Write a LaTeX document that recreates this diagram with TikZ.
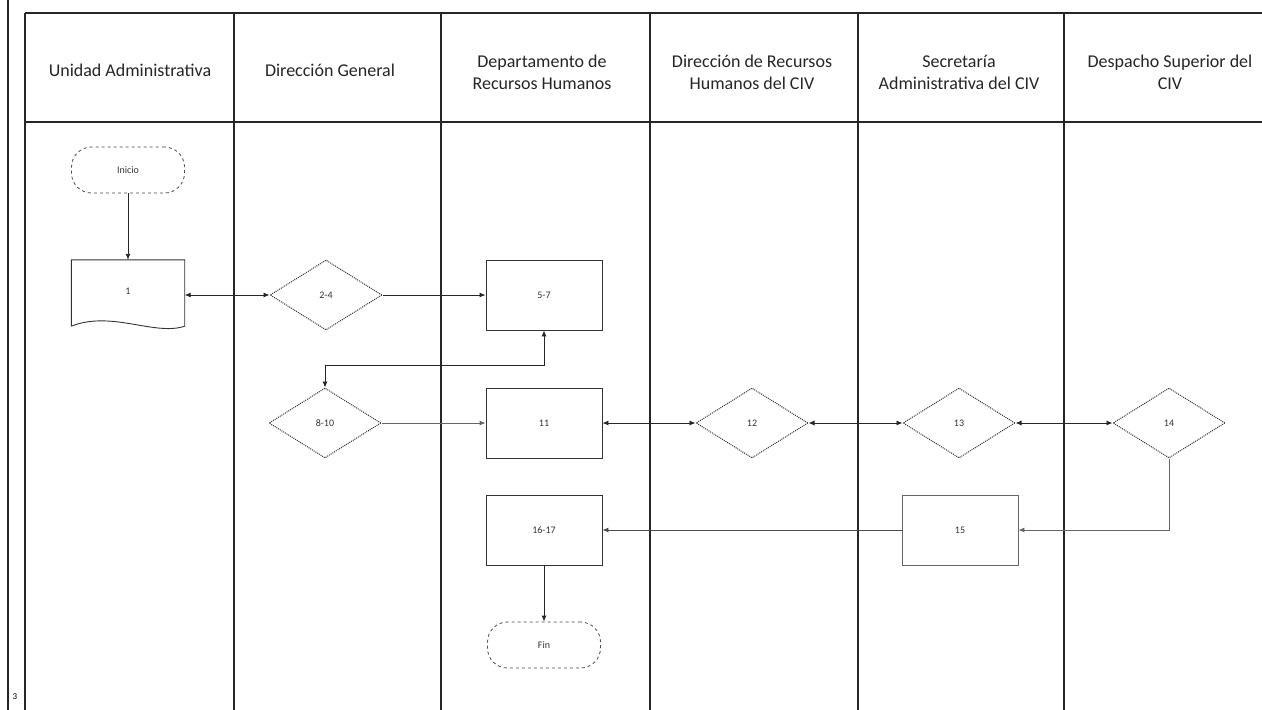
\documentclass[tikz,border=0pt]{standalone}
\usepackage{fontspec}
\setmainfont{Carlito}
\usetikzlibrary{shapes.geometric,arrows.meta}
\begin{document}
\begin{tikzpicture}[x=1pt,y=-1pt,
  lane/.style={line width=1.3pt, draw=black!85},
  hdr/.style={align=center, font=\fontsize{18}{22}\selectfont, text=black!85},
  lbl/.style={font=\fontsize{10}{11}\selectfont, text=black!80},
  term/.style={lbl, draw=black!70, dashed, line width=0.8pt, rounded corners=20pt, minimum width=113pt, minimum height=46pt, inner sep=0pt},
  proc/.style={lbl, draw=black!80, line width=0.9pt, minimum width=116pt, minimum height=70pt, inner sep=0pt},
  dec/.style={lbl, diamond, draw=black!80, densely dotted, line width=1pt, aspect=1.6, minimum width=112pt, minimum height=70pt, inner sep=0pt},
  docu/.style={lbl, minimum width=113pt, minimum height=62pt, inner sep=0pt},
  arr/.style={-{Latex[length=6pt,width=5pt]}, line width=0.9pt, draw=black!85},
  darr/.style={{Latex[length=6pt,width=5pt]}-{Latex[length=6pt,width=5pt]}, line width=0.9pt, draw=black!85}]
\useasboundingbox (0,0) rectangle (1262,710);
\fill[white] (0,0) rectangle (1262,710);
% table
\draw[lane] (8,0) -- (8,710);
\draw[lane] (25,13) -- (1262,13);
\draw[lane] (25,122) -- (1262,122);
\foreach \x in {25,234,441,650,858,1064} \draw[lane] (\x,13) -- (\x,710);
% headers
\node[hdr] (h1) at (130,70) {Unidad Administrativa};
\node[hdr] (h2) at (330,70) {Dirección General};
\node[hdr] (h3) at (542,72) {Departamento de\\Recursos Humanos};
\node[hdr] (h4) at (752,72) {Dirección de Recursos\\Humanos del CIV};
\node[hdr] (h5) at (959,72) {Secretaría\\Administrativa del CIV};
\node[hdr] (h6) at (1170,72) {Despacho Superior del\\CIV};
\node[font=\fontsize{9}{10}\selectfont] (pg) at (15,697) {3};
% nodes
\node[term] (ini) at (128,170) {Inicio};
\node[docu] (n1) at (128,291) {1};
\draw[line width=0.9pt, draw=black!80] ([yshift=-4pt]n1.south west) -- (n1.north west) -- (n1.north east) -- ([yshift=-4pt]n1.south east)
  .. controls ([xshift=-30pt,yshift=-14pt]n1.south east) and ([xshift=40pt,yshift=12pt]n1.south west) .. ([yshift=-4pt]n1.south west);
\node[dec] (n24) at (326,295) {2-4};
\node[proc] (n57) at (544,295) {5-7};
\node[dec] (n810) at (325,423) {8-10};
\node[proc] (n11) at (544,423) {11};
\node[dec] (n12) at (752,423) {12};
\node[dec] (n13) at (959,423) {13};
\node[dec] (n14) at (1169,423) {14};
\node[proc, draw=black!60] (n15) at (960,530) {15};
\node[proc] (n1617) at (544,530) {16-17};
\node[term] (fin) at (544,645) {Fin};
% connectors
\draw[arr] (ini) -- (n1);
\draw[darr] (n24.west -| n1.east) -- (n24.west);
\draw[arr] (n24.east) -- (n57.west);
\draw[darr] (n57.south) -- ++(0,35) -| (n810.north);
\draw[arr, draw=black!60] (n810.east) -- (n11.west);
\draw[darr] (n11.east) -- (n12.west);
\draw[darr] (n12.east) -- (n13.west);
\draw[darr] (n13.east) -- (n14.west);
\draw[arr, draw=black!60] (n14.south) |- (n15.east);
\draw[arr, draw=black!70] (n15.west) -- (n1617.east);
\draw[arr] (n1617) -- (fin);
\end{tikzpicture}
\end{document}
